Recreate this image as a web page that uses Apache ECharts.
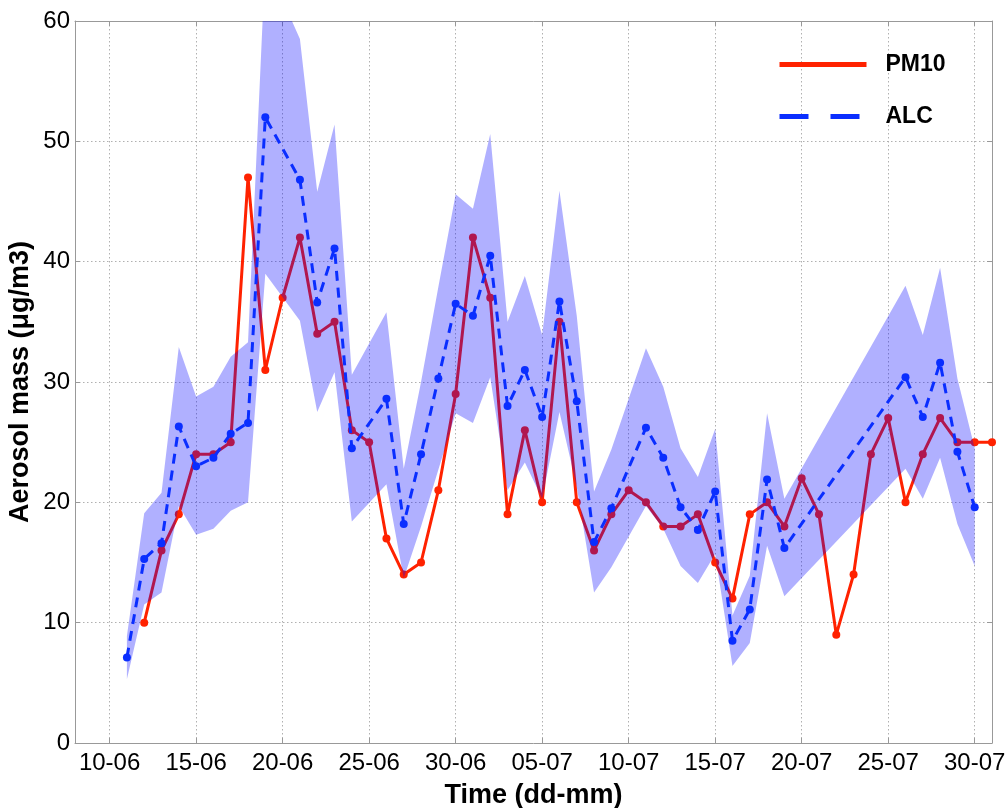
<!DOCTYPE html>
<html>
<head>
<meta charset="utf-8">
<script src="https://cdn.jsdelivr.net/npm/echarts@6/dist/echarts.min.js"></script>
<style>
  html, body { margin: 0; padding: 0; background: #fff; }
  #chart { width: 1008px; height: 808px; }
</style>
</head>
<body>
<div id="chart"></div>
<script>
// ---- data ----
const dates = ['11-06','12-06','13-06','14-06','15-06','16-06','17-06','18-06','19-06','20-06',
  '21-06','22-06','23-06','24-06','25-06','26-06','27-06','28-06','29-06','30-06',
  '01-07','02-07','03-07','04-07','05-07','06-07','07-07','08-07','09-07','10-07',
  '11-07','12-07','13-07','14-07','15-07','16-07','17-07','18-07','19-07','20-07',
  '21-07','22-07','23-07','24-07','25-07','26-07','27-07','28-07','29-07','30-07','31-07'];

const pm10 = [null, 10, 16, 19, 24, 24, 25, 47, 31, 37,
  42, 34, 35, 26, 25, 17, 14, 15, 21, 29,
  42, 37, 19, 26, 20, 35, 20, 16, 19, 21,
  20, 18, 18, 19, 15, 12, 19, 20, 18, 22,
  19, 9, 14, 24, 27, 20, 24, 27, 25, 25, 25];

const alc = [7.1, 15.3, 16.6, 26.3, 23.0, 23.7, 25.7, 26.6, 52.0, null,
  46.8, 36.6, 41.1, 24.5, null, 28.6, 18.2, 24.0, 30.3, 36.5,
  35.5, 40.5, 28.0, 31.0, 27.1, 36.7, 28.4, 16.7, 19.5, null,
  26.2, 23.7, 19.6, 17.7, 20.9, 8.5, 11.1, 21.9, 16.2, null,
  null, null, null, null, null, 30.4, 27.1, 31.6, 24.2, 19.6, null];

const alcLow = [5.3, 11.5, 12.5, 19.7, 17.3, 17.8, 19.3, 20.0, 39.0, null,
  35.1, 27.5, 30.8, 18.4, null, 21.5, 13.7, 18.0, 22.7, 27.4,
  26.6, 30.4, 21.0, 23.3, 20.3, 27.5, 21.3, 12.5, 14.6, null,
  19.7, 17.8, 14.7, 13.3, 15.7, 6.4, 8.3, 16.4, 12.2, null,
  null, null, null, null, null, 22.8, 20.3, 23.7, 18.2, 14.7, null];

const alcHigh = [8.9, 19.1, 20.8, 32.9, 28.8, 29.6, 32.1, 33.3, 65.0, null,
  58.5, 45.8, 51.4, 30.6, null, 35.8, 22.8, 30.0, 37.9, 45.6,
  44.4, 50.6, 35.0, 38.8, 33.9, 45.9, 35.5, 20.9, 24.4, null,
  32.8, 29.6, 24.5, 22.1, 26.1, 10.6, 13.9, 27.4, 20.3, null,
  null, null, null, null, null, 38.0, 33.9, 39.5, 30.3, 24.5, null];

const tickLabels = ['10-06','15-06','20-06','25-06','30-06','05-07','10-07','15-07','20-07','25-07','30-07'];
const axisStart = '08-06';
const axisEnd = '31-07';

// ---- helpers ----
function dayIndex(s) {           // days after 10-06
  const p = s.split('-').map(Number);
  return (p[1] === 6 ? p[0] : 30 + p[0]) - 10;
}
function pairs(vals) {
  const out = [];
  vals.forEach((v, i) => { if (v != null) out.push([dayIndex(dates[i]), v]); });
  return out;
}
const tickVals = tickLabels.map(dayIndex);
const bandRows = [];
alcLow.forEach((v, i) => { if (v != null) bandRows.push([dayIndex(dates[i]), v, alcHigh[i]]); });

const FONT = 'Liberation Sans';
const AX = '#999';
const GRID = { color: '#b0b0b0', type: [1.5, 2.5], width: 1 };

const chart = echarts.init(document.getElementById('chart'), null, { renderer: 'canvas' });
chart.setOption({
  animation: false,
  backgroundColor: '#fff',
  grid: { left: 75, right: 16, top: 21, bottom: 65, containLabel: false, outerBoundsMode: 'none' },
  legend: {
    orient: 'vertical', left: 772, top: 48,
    itemWidth: 87, itemHeight: 14, itemGap: 29,
    selectedMode: false,
    itemStyle: { opacity: 0 },
    lineStyle: { width: 5 },
    textStyle: { fontFamily: FONT, fontWeight: 'bold', fontSize: 23, color: '#000', padding: [0, 0, 0, 14] },
    data: [
      { name: 'PM10' },
      { name: 'ALC', lineStyle: { type: [29, 22], width: 5 } }
    ]
  },
  xAxis: [
    {
      type: 'value', position: 'bottom',
      min: dayIndex(axisStart), max: dayIndex(axisEnd),
      axisLine: { show: true, onZero: false, lineStyle: { color: AX } },
      axisTick: { show: true, inside: true, length: 5, lineStyle: { color: AX }, customValues: tickVals },
      axisLabel: {
        customValues: tickVals,
        formatter: v => tickLabels[tickVals.indexOf(v)] || '',
        color: '#000', fontSize: 24, fontFamily: FONT, margin: 8
      },
      splitLine: { show: true, lineStyle: GRID },
      name: 'Time (dd-mm)', nameLocation: 'middle', nameGap: 39,
      nameTextStyle: { fontFamily: FONT, fontWeight: 'bold', fontSize: 27, color: '#000' }
    },
    {
      type: 'value', position: 'top',
      min: dayIndex(axisStart), max: dayIndex(axisEnd),
      axisLine: { show: true, onZero: false, lineStyle: { color: AX } },
      axisTick: { show: true, inside: true, length: 5, lineStyle: { color: AX }, customValues: tickVals },
      axisLabel: { show: false },
      splitLine: { show: false }
    }
  ],
  yAxis: [
    {
      type: 'value', position: 'left', min: 0, max: 60, interval: 10,
      axisLine: { show: true, onZero: false, lineStyle: { color: AX } },
      axisTick: { show: true, inside: true, length: 5, lineStyle: { color: AX } },
      axisLabel: { color: '#000', fontSize: 24, fontFamily: FONT, margin: 5 },
      splitLine: { show: true, lineStyle: GRID },
      name: 'Aerosol mass (μg/m3)', nameLocation: 'middle', nameGap: 41, nameMoveOverlap: false,
      nameTextStyle: { fontFamily: FONT, fontWeight: 'bold', fontSize: 27, color: '#000' }
    },
    {
      type: 'value', position: 'right', min: 0, max: 60, interval: 10,
      axisLine: { show: true, onZero: false, lineStyle: { color: AX } },
      axisTick: { show: true, inside: true, length: 5, lineStyle: { color: AX } },
      axisLabel: { show: false },
      splitLine: { show: false }
    }
  ],
  series: [
    {
      name: 'PM10', type: 'line', data: pairs(pm10), z: 2,
      color: '#ff2200',
      lineStyle: { width: 3, color: '#ff2200' },
      itemStyle: { color: '#ff2200' },
      symbol: 'circle', symbolSize: 8, showSymbol: true
    },
    {
      name: 'band', type: 'custom', clip: true, silent: true, z: 3,
      data: bandRows,
      encode: { x: 0, y: [1, 2] },
      renderItem: function (params, api) {
        if (params.dataIndex !== 0) return null;
        const pts = [];
        bandRows.forEach(r => pts.push(api.coord([r[0], r[2]])));
        for (let i = bandRows.length - 1; i >= 0; i--) pts.push(api.coord([bandRows[i][0], bandRows[i][1]]));
        return { type: 'polygon', shape: { points: pts }, style: { fill: 'rgba(0,0,255,0.31)' } };
      }
    },
    {
      name: 'ALC', type: 'line', data: pairs(alc), z: 4,
      color: '#0a2eff',
      lineStyle: { width: 3, type: [10, 7], color: '#0a2eff' },
      itemStyle: { color: '#0a2eff' },
      symbol: 'circle', symbolSize: 8, showSymbol: true
    }
  ]
});
</script>
</body>
</html>
